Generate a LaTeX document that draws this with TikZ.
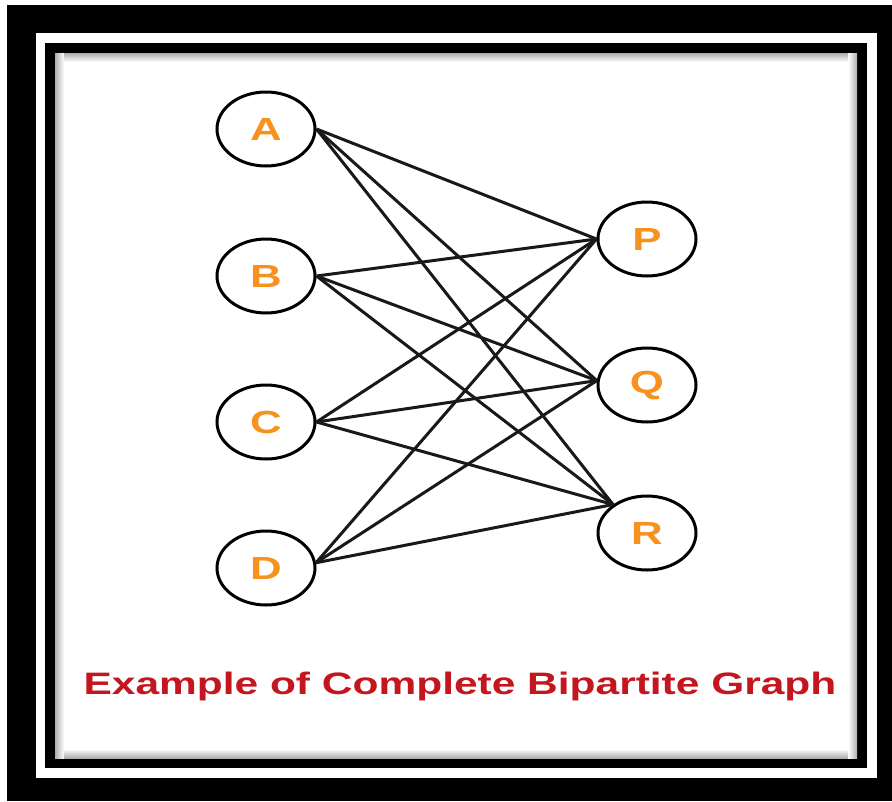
\documentclass[tikz,border=0pt]{standalone}
\usepackage{fontspec}
\usepackage{graphicx}
\setmainfont{Liberation Sans}
\usetikzlibrary{shapes.geometric}
\definecolor{nodeorange}{RGB}{247,146,30}
\definecolor{captionred}{RGB}{196,22,30}
\newcommand\widetext[1]{\scalebox{1.37}[1]{#1}}
\begin{document}
\begin{tikzpicture}[x=1pt,y=-1pt,
  vertex/.style={ellipse, draw=black, line width=3pt, fill=white,
    minimum width=98pt, minimum height=74pt, inner sep=0pt,
    text=nodeorange, font=\fontsize{32}{32}\selectfont\bfseries},
  edge/.style={line width=3pt, black!90},
  shadowstrip/.style={draw=none}]
  % page and nested frames
  \useasboundingbox (0,0) rectangle (892,801);
  \fill[white] (0,0) rectangle (892,801);
  \fill[black] (7,5) rectangle (892,801);
  \fill[white] (36,33) rectangle (877,778);
  \fill[black] (45,43) rectangle (867,768);
  \fill[white] (55,53) rectangle (857,758);
  % soft inner shadow of the panel
  \shade[shadowstrip, left color=black!32, right color=white] (55,53) rectangle (64,758);
  \shade[shadowstrip, left color=white, right color=black!32] (848,53) rectangle (857,758);
  \shade[shadowstrip, top color=black!32, bottom color=white] (64,53) rectangle (848,62);
  \shade[shadowstrip, top color=white, bottom color=black!32] (64,749) rectangle (848,758);

  % vertices
  \node[vertex] (A) at (266,129) {\widetext{A}};
  \node[vertex] (B) at (266,276) {\widetext{B}};
  \node[vertex] (C) at (266,422) {\widetext{C}};
  \node[vertex] (D) at (266,568) {\widetext{D}};
  \node[vertex] (P) at (647,239) {\widetext{P}};
  \node[vertex] (Q) at (647,385) {\widetext{Q}};
  \node[vertex] (R) at (647,533) {\widetext{R}};

  % every left vertex joined to every right vertex
  \foreach \u/\ua in {A/east,B/east,C/east,D/6}{
    \draw[edge] (\u.\ua) -- (P.west);
    \draw[edge] (\u.\ua) -- (Q.175);
    \draw[edge] (\u.\ua) -- (R.140);
  }

  % caption
  \node[anchor=base, text=captionred, inner sep=0pt,
    font=\fontsize{31}{31}\selectfont\bfseries] (caption) at (460,694)
    {\widetext{Example of Complete Bipartite Graph}};
\end{tikzpicture}
\end{document}
